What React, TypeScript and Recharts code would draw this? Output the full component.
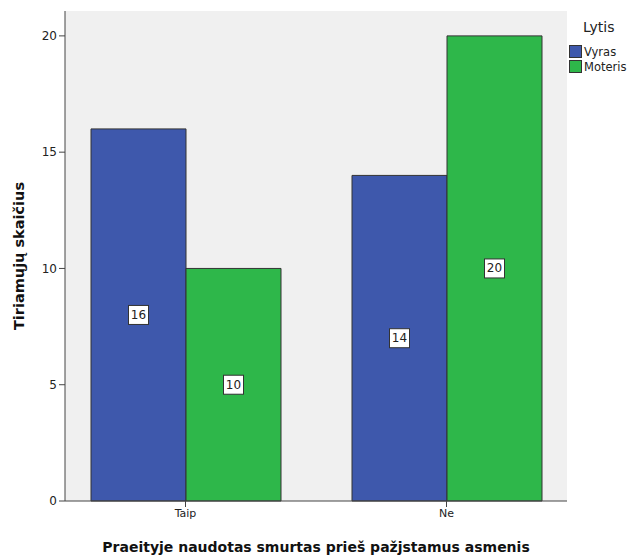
import { ComposedChart, Bar, XAxis, YAxis, CartesianGrid, LabelList } from 'recharts';

const categories = ['Taip', 'Ne'];
const vyras = [16, 14];
const moteris = [10, 20];
const yTicks = [0, 5, 10, 15, 20];
const legendItems = ['Vyras', 'Moteris'];

const data = categories.map((c, i) => ({ name: c, Vyras: vyras[i], Moteris: moteris[i] }));

const BLUE = '#3E58AC';
const GREEN = '#2EB74A';
const FONT = '"DejaVu Sans", sans-serif';
const colors = [BLUE, GREEN];

// white boxed value label in the middle of the bar
const BoxLabel = (props: any) => {
  const { x, y, width, height, value } = props;
  const cx = x + width / 2;
  const cy = y + height / 2;
  const w = String(value).length * 7 + 6;
  return (
    <g>
      <rect x={cx - w / 2} y={cy - 9.5} width={w} height={19} fill="#fff" stroke="#333" strokeWidth={1} />
      <text x={cx} y={cy + 4} textAnchor="middle" fontSize={12} fontFamily={FONT} fill="#222">{value}</text>
    </g>
  );
};

export default function App() {
  return (
    <div style={{ position: 'absolute', left: 0, top: 0, width: 629, height: 556, background: '#fff' }}>
      <ComposedChart width={629} height={556} data={data} margin={{ top: 11, right: 62, left: 0, bottom: 0 }}
        barGap={0} barCategoryGap={36}>
        <CartesianGrid fill="#F0F0F0" horizontal={false} vertical={false} />
        <XAxis dataKey="name" height={55} padding={{ left: -10, right: -10 }} axisLine={{ stroke: '#444' }} tickLine={{ stroke: '#444' }}
          tick={{ fontSize: 11, fontFamily: FONT, fill: '#222' }} tickSize={6}
          label={{ value: 'Praeityje naudotas smurtas prieš pažjstamus asmenis', position: 'insideBottom', offset: 4,
            style: { fontSize: 14, fontWeight: 'bold', fontFamily: FONT, fill: '#111' } }} />
        <XAxis xAxisId="top" orientation="top" dataKey="name" tick={false} tickLine={false} height={0} axisLine={{ stroke: '#777' }} />
        <YAxis width={65} domain={[0, 21.07]} ticks={yTicks} axisLine={{ stroke: '#444' }} tickLine={{ stroke: '#444' }}
          tick={{ fontSize: 12, fontFamily: FONT, fill: '#222' }} tickSize={6}
          label={{ value: 'Tiriamųjų skaičius', angle: -90, position: 'insideLeft', offset: 19,
            style: { fontSize: 14.5, fontWeight: 'bold', fontFamily: FONT, fill: '#111', textAnchor: 'middle' } }} />
        <YAxis yAxisId="right" orientation="right" width={0} tick={false} tickLine={false} axisLine={{ stroke: '#777' }} />
        <Bar dataKey="Vyras" fill={BLUE} stroke="#333" strokeWidth={1} isAnimationActive={false}>
          <LabelList dataKey="Vyras" content={BoxLabel} />
        </Bar>
        <Bar dataKey="Moteris" fill={GREEN} stroke="#333" strokeWidth={1} isAnimationActive={false}>
          <LabelList dataKey="Moteris" content={BoxLabel} />
        </Bar>
      </ComposedChart>
      <div style={{ position: 'absolute', left: 569, top: 18, fontFamily: FONT, color: '#222' }}>
        <div style={{ fontSize: 14, lineHeight: '18px', marginLeft: 14, marginBottom: 8 }}>Lytis</div>
        {legendItems.map((n, i) => (
          <div key={n} style={{ display: 'flex', alignItems: 'center', fontSize: 11.5, height: 15 }}>
            <span style={{ width: 11, height: 11, background: colors[i], border: '1px solid #333', marginRight: 2 }} />
            {n}
          </div>
        ))}
      </div>
    </div>
  );
}
